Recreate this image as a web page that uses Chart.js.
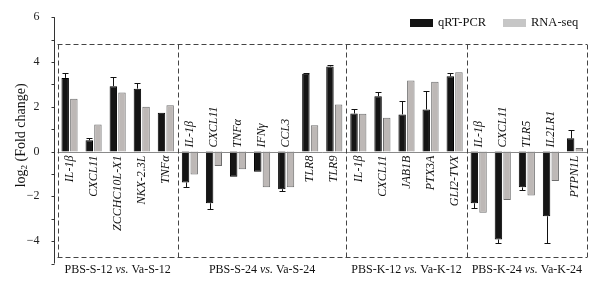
<!DOCTYPE html>
<html>
<head>
<meta charset="utf-8">
<script src="https://cdn.jsdelivr.net/npm/chart.js@4"></script>
<style>
  body { margin: 0; background: #fff; }
  canvas { display: block; }
</style>
</head>
<body>
<canvas id="foldChart" width="614" height="282"></canvas>
<script>
// genes, in the order they appear left to right
const genes = ['IL-1β', 'CXCL11', 'ZCCHC10L-X1', 'NKX-2.3L', 'TNFα',
  'IL-1β', 'CXCL11', 'TNFα', 'IFNγ', 'CCL3', 'TLR8', 'TLR9',
  'IL-1β', 'CXCL11', 'JAB1B', 'PTX3A', 'GLI2-TVX',
  'IL-1β', 'CXCL11', 'TLR5', 'IL2LR1', 'PTPN1L'];
const groupNames = [['PBS-S-12', 'Va-S-12'], ['PBS-S-24', 'Va-S-24'], ['PBS-K-12', 'Va-K-12'], ['PBS-K-24', 'Va-K-24']];
const groupSizes = [5, 7, 5, 5];

const qpcr = [3.29, 0.50, 2.92, 2.81, 1.73,
  -1.38, -2.31, -1.13, -0.90, -1.68, 3.48, 3.80,
  1.70, 2.47, 1.66, 1.88, 3.36,
  -2.31, -3.93, -1.60, -2.89, 0.59];
const qpcrErr = [0.22, 0.09, 0.40, 0.25, 0,
  0.22, 0.25, 0, 0, 0.10, 0.03, 0.06,
  0.22, 0.20, 0.58, 0.81, 0.16,
  0.21, 0.16, 0.12, 1.19, 0.36];
const rnaseq = [2.36, 1.21, 2.64, 2.00, 2.07,
  -1.02, -0.64, -0.79, -1.60, -1.60, 1.17, 2.10,
  1.69, 1.51, 3.17, 3.12, 3.54,
  -2.73, -2.16, -1.96, -1.31, 0.16];

const yTicks = [-4, -2, 0, 2, 4, 6];

const serif = '"Liberation Serif", "DejaVu Serif", serif';

// everything chart.js doesn't do by itself: axis, boxes, gene names, error bars, legend
const decor = {
  id: 'decor',
  afterDatasetsDraw(chart) {
    const ctx = chart.ctx;
    const xs = chart.scales.x, ys = chart.scales.y;
    const area = chart.chartArea;
    const y0 = ys.getPixelForValue(0);
    ctx.save();

    // zero line
    ctx.strokeStyle = '#8a8a8a';
    ctx.lineWidth = 1;
    ctx.beginPath();
    ctx.moveTo(area.left, Math.round(y0) + 0.5);
    ctx.lineTo(area.right, Math.round(y0) + 0.5);
    ctx.stroke();

    // error bars (qRT-PCR only, away from zero)
    const meta = chart.getDatasetMeta(0);
    ctx.strokeStyle = '#111';
    meta.data.forEach((bar, i) => {
      if (!qpcrErr[i]) return;
      const v = qpcr[i];
      const end = v + Math.sign(v) * qpcrErr[i];
      const x = Math.round(bar.x) + 0.5;
      const yEnd = Math.round(ys.getPixelForValue(end)) + 0.5;
      ctx.beginPath();
      ctx.moveTo(x, bar.y);
      ctx.lineTo(x, yEnd);
      ctx.moveTo(x - 3, yEnd);
      ctx.lineTo(x + 3, yEnd);
      ctx.stroke();
    });

    // dashed group boxes
    const step = xs.getPixelForValue(1) - xs.getPixelForValue(0);
    const edge = i => {
      if (i <= 0) return xs.getPixelForValue(0) - step / 2;
      if (i >= genes.length) return xs.getPixelForValue(genes.length - 1) + step / 2;
      return (xs.getPixelForValue(i - 1) + xs.getPixelForValue(i)) / 2;
    };
    const bTop = Math.round(ys.getPixelForValue(4.8)) + 0.5;
    const bBot = Math.round(ys.getPixelForValue(-4.7)) + 0.5;
    ctx.strokeStyle = '#444';
    ctx.setLineDash([5, 3]);
    let start = 0;
    const bounds = [edge(0)];
    groupSizes.forEach(n => { start += n; bounds.push(edge(start)); });
    ctx.beginPath();
    ctx.moveTo(bounds[0], bTop);
    ctx.lineTo(bounds[bounds.length - 1], bTop);
    ctx.moveTo(bounds[0], bBot);
    ctx.lineTo(bounds[bounds.length - 1], bBot);
    bounds.forEach(b => {
      const bx = Math.round(b) + 0.5;
      ctx.moveTo(bx, bTop);
      ctx.lineTo(bx, bBot);
    });
    ctx.stroke();
    ctx.setLineDash([]);

    // group captions under the boxes
    ctx.fillStyle = '#111';
    ctx.textBaseline = 'middle';
    const capY = bBot + 12;
    groupNames.forEach((g, k) => {
      const cx = (bounds[k] + bounds[k + 1]) / 2;
      const parts = [[g[0] + ' ', 'normal'], ['vs.', 'italic'], [' ' + g[1], 'normal']];
      let w = 0;
      parts.forEach(p => { ctx.font = p[1] + ' 12px ' + serif; w += ctx.measureText(p[0]).width; });
      let px = cx - w / 2;
      ctx.textAlign = 'left';
      parts.forEach(p => {
        ctx.font = p[1] + ' 12px ' + serif;
        ctx.fillText(p[0], px, capY);
        px += ctx.measureText(p[0]).width;
      });
    });

    // gene names, vertical, next to the zero line
    ctx.font = 'italic 12px ' + serif;
    genes.forEach((g, i) => {
      const x = xs.getPixelForValue(i);
      ctx.save();
      if (qpcr[i] >= 0) {
        ctx.translate(x, y0 + 4);
        ctx.rotate(-Math.PI / 2);
        ctx.textAlign = 'right';
      } else {
        ctx.translate(x, y0 - 4);
        ctx.rotate(-Math.PI / 2);
        ctx.textAlign = 'left';
      }
      ctx.fillText(g, 0, 0);
      ctx.restore();
    });

    // y axis line with ticks at every unit
    const ax = Math.round(area.left - 3.5) + 0.5;
    ctx.strokeStyle = '#333';
    ctx.beginPath();
    ctx.moveTo(ax, ys.getPixelForValue(ys.max));
    ctx.lineTo(ax, ys.getPixelForValue(ys.min));
    for (let v = ys.min; v <= ys.max; v++) {
      const ty = Math.round(ys.getPixelForValue(v)) + 0.5;
      ctx.moveTo(ax - 3, ty);
      ctx.lineTo(ax, ty);
    }
    ctx.stroke();

    // y title with subscript
    ctx.save();
    ctx.translate(21, (ys.top + ys.bottom) / 2 - 5);
    ctx.rotate(-Math.PI / 2);
    ctx.textBaseline = 'middle';
    ctx.textAlign = 'left';
    const t1 = 'log', t2 = '2', t3 = ' (Fold change)';
    ctx.font = '14px ' + serif;
    const w1 = ctx.measureText(t1).width, w3 = ctx.measureText(t3).width;
    ctx.font = '9px ' + serif;
    const w2 = ctx.measureText(t2).width;
    let tx = -(w1 + w2 + w3) / 2;
    ctx.font = '14px ' + serif;
    ctx.fillText(t1, tx, 0);
    tx += w1;
    ctx.font = '9px ' + serif;
    ctx.fillText(t2, tx, 4);
    tx += w2;
    ctx.font = '14px ' + serif;
    ctx.fillText(t3, tx, 0);
    ctx.restore();

    // legend, top right
    ctx.font = '12.5px ' + serif;
    ctx.textAlign = 'left';
    ctx.textBaseline = 'middle';
    const legX = [410, 503];
    chart.data.datasets.forEach((ds, k) => {
      ctx.fillStyle = ds.legendColor;
      ctx.fillRect(legX[k], 19, 23, 8);
      ctx.fillStyle = '#111';
      ctx.fillText(ds.label, legX[k] + 28, 23);
    });

    ctx.restore();
  }
};

new Chart(document.getElementById('foldChart'), {
  type: 'bar',
  data: {
    labels: genes,
    datasets: [{
      label: 'qRT-PCR',
      data: qpcr,
      backgroundColor: '#151515',
      borderColor: '#000',
      borderWidth: 1,
      legendColor: '#141414',
      categoryPercentage: 0.72,
      barPercentage: 0.86
    }, {
      label: 'RNA-seq',
      data: rnaseq,
      backgroundColor: '#bdb8b6',
      borderColor: '#6e6e6e',
      borderWidth: 1,
      legendColor: '#c6c6c6',
      categoryPercentage: 0.72,
      barPercentage: 0.86
    }]
  },
  options: {
    responsive: false,
    animation: false,
    devicePixelRatio: 1,
    layout: { padding: { top: 16, right: 27, bottom: 18.5, left: 0 } },
    plugins: {
      legend: { display: false },
      tooltip: { enabled: false }
    },
    scales: {
      x: { display: false },
      y: {
        min: -5,
        max: 6,
        grid: { display: false },
        border: { display: false },
        afterFit: s => { s.width = 57.5; },
        ticks: {
          stepSize: 1,
          padding: 10,
          color: '#222',
          font: { family: serif, size: 12 },
          callback: v => yTicks.includes(v) ? String(v).replace('-', '\u2212') : ''
        }
      }
    }
  },
  plugins: [decor]
});
</script>
</body>
</html>
